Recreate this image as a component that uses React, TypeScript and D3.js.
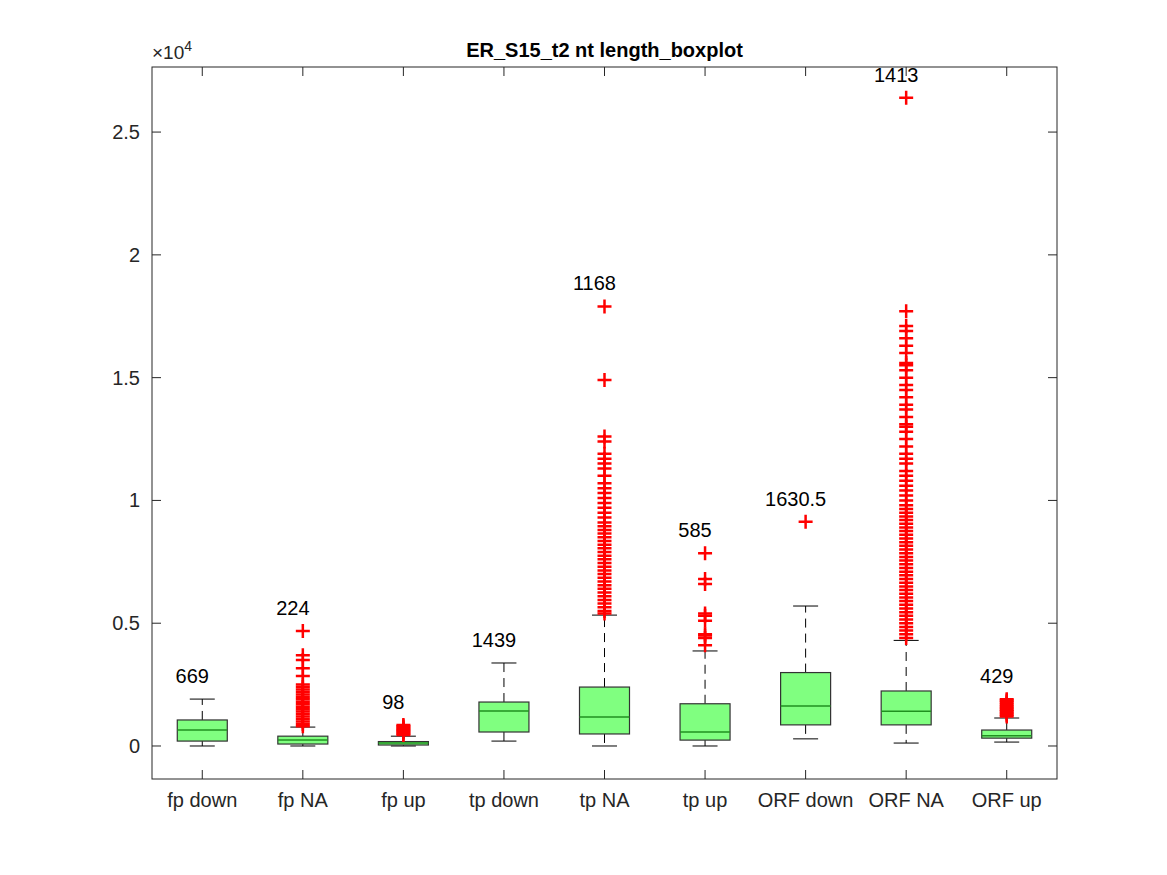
import * as d3 from "d3";
import React from "react";

const categories = ["fp down", "fp NA", "fp up", "tp down", "tp NA", "tp up", "ORF down", "ORF NA", "ORF up"];
const labels = ["669", "224", "98", "1439", "1168", "585", "1630.5", "1413", "429"];
// [lower whisker, q1, median, q3, upper whisker]
const stats = [
  [0, 200, 650, 1060, 1910],
  [0, 80, 240, 400, 770],
  [0, 40, 120, 180, 400],
  [200, 570, 1430, 1790, 3380],
  [0, 490, 1180, 2400, 5330],
  [0, 240, 570, 1720, 3870],
  [290, 860, 1630, 2990, 5700],
  [120, 860, 1410, 2240, 4300],
  [160, 320, 420, 650, 1140],
];
const outliers = [
  [],
  [800, 900, 1000, 1100, 1200, 1300, 1400, 1500, 1600, 1700, 1800, 1900, 2000, 2100, 2200, 2300, 2400, 2500, 2850, 3170, 3500, 3700, 4680],
  [450, 500, 550, 600, 650, 700, 750, 800, 850],
  [],
  [5400, 5500, 5650, 5800, 5950, 6100, 6250, 6400, 6550, 6700, 6850, 7000, 7150, 7300, 7450, 7600, 7750, 7900, 8050, 8200, 8350, 8500, 8650, 8800, 8950, 9100, 9300, 9500, 9700, 9900, 10100, 10300, 10500, 10700, 11000, 11300, 11500, 11700, 11900, 12400, 12600, 14900, 17900],
  [4100, 4400, 4500, 4550, 5100, 5300, 5400, 6600, 6800, 7850],
  [9130],
  [4400, 4550, 4700, 4850, 5000, 5150, 5300, 5450, 5600, 5750, 5900, 6050, 6200, 6350, 6500, 6650, 6800, 6950, 7100, 7250, 7400, 7550, 7700, 7850, 8000, 8150, 8300, 8450, 8600, 8750, 8900, 9050, 9200, 9350, 9500, 9650, 9800, 10000, 10200, 10400, 10600, 10800, 11000, 11200, 11500, 11700, 11900, 12200, 12500, 12800, 13000, 13100, 13400, 13700, 13900, 14200, 14500, 14700, 15000, 15300, 15500, 15600, 16000, 16300, 16600, 16900, 17100, 17700, 26400],
  [1200, 1270, 1340, 1410, 1480, 1550, 1620, 1700, 1780, 1850, 1900],
];
const yTicks = [0, 5000, 10000, 15000, 20000, 25000];
const yTickLabels = ["0", "0.5", "1", "1.5", "2", "2.5"];

export default function App() {
  const W = 1167, H = 875;
  const L = 152, R = 1057, T = 67, B = 779;
  const x = d3.scaleLinear().domain([0.5, 9.5]).range([L, R]);
  const y = d3.scaleLinear().domain([-1344, 27650]).range([B, T]);
  const font = "'Liberation Sans', Arial, Helvetica, sans-serif";
  const ax = "#262626";
  const bw = 25, cw = 12.5, ms = 7;

  return (
    <svg width={W} height={H} style={{ position: "absolute", left: 0, top: 0, background: "#fff" }} fontFamily={font}>
      <rect x={L} y={T} width={R - L} height={B - T} fill="#fff" stroke={ax} strokeWidth={1} />
      {yTicks.map((t, i) => (
        <g key={t}>
          <line x1={L} x2={L + 9} y1={y(t)} y2={y(t)} stroke={ax} />
          <line x1={R} x2={R - 9} y1={y(t)} y2={y(t)} stroke={ax} />
          <text x={L - 12} y={y(t)} dy="0.35em" textAnchor="end" fontSize={20} fill={ax}>{yTickLabels[i]}</text>
        </g>
      ))}
      {categories.map((c, i) => (
        <g key={c}>
          <line x1={x(i + 1)} x2={x(i + 1)} y1={B} y2={B - 9} stroke={ax} />
          <line x1={x(i + 1)} x2={x(i + 1)} y1={T} y2={T + 9} stroke={ax} />
          <text x={x(i + 1)} y={B + 28} textAnchor="middle" fontSize={20} fill={ax}>{c}</text>
        </g>
      ))}
      <text x={L} y={59} fontSize={19} fill={ax}>×10<tspan dy={-8} fontSize={14}>4</tspan></text>
      <text x={(L + R) / 2} y={57} textAnchor="middle" fontSize={20} fontWeight="bold" fill="#000">ER_S15_t2 nt length_boxplot</text>
      {stats.map((s, i) => {
        const cx = x(i + 1);
        const [lo, q1, md, q3, hi] = s;
        const top = Math.max(hi, ...(outliers[i].length ? outliers[i] : [hi]));
        return (
          <g key={i}>
            <line x1={cx} x2={cx} y1={y(q3)} y2={y(hi)} stroke="#000" strokeDasharray="9,6" />
            <line x1={cx} x2={cx} y1={y(q1)} y2={y(lo)} stroke="#000" strokeDasharray="9,6" />
            <line x1={cx - cw} x2={cx + cw} y1={y(hi)} y2={y(hi)} stroke="#000" />
            <line x1={cx - cw} x2={cx + cw} y1={y(lo)} y2={y(lo)} stroke="#000" />
            <rect x={cx - bw} y={y(q3)} width={bw * 2} height={Math.max(1, y(q1) - y(q3))} fill="#80ff80" stroke="#333" strokeWidth={1.2} />
            <line x1={cx - bw} x2={cx + bw} y1={y(md)} y2={y(md)} stroke="#209020" strokeWidth={1.5} />
            {outliers[i].map((v, j) => (
              <path key={j} d={`M${cx - ms},${y(v)}H${cx + ms}M${cx},${y(v) - ms}V${y(v) + ms}`} stroke="#ff0000" strokeWidth={2.5} fill="none" />
            ))}
            <text x={cx - 10} y={y(top) - 16} textAnchor="middle" fontSize={20} fill="#000">{labels[i]}</text>
          </g>
        );
      })}
    </svg>
  );
}
